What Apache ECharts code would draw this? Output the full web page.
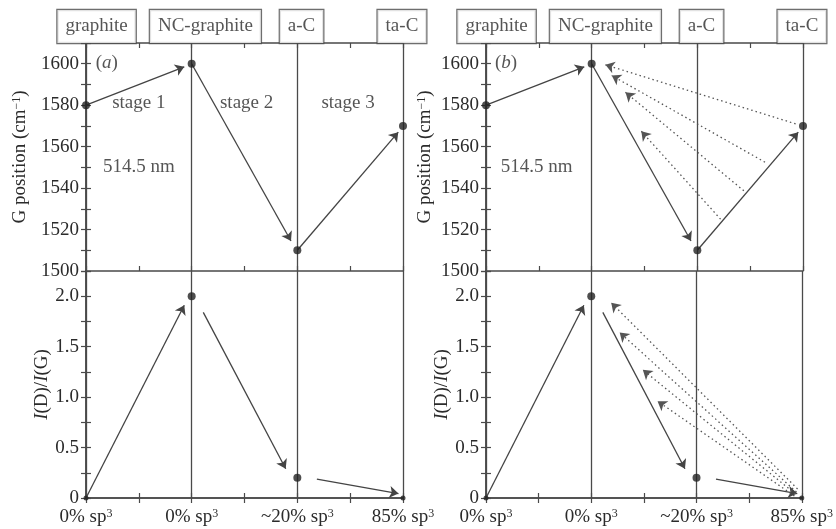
<!DOCTYPE html>
<html>
<head>
<meta charset="utf-8">
<script src="https://cdn.jsdelivr.net/npm/echarts@6/dist/echarts.min.js"></script>
<style>html,body{margin:0;background:#fff}#chart{width:836px;height:529px}</style>
</head>
<body>
<div id="chart"></div>
<script>
// stage points
const phases = ['graphite', 'NC-graphite', 'a-C', 'ta-C'];
const sp3Labels = ['0%', '0%', '~20%', '85%'];
const gTicks = [1500, 1520, 1540, 1560, 1580, 1600];
const ratioTicks = [0, 0.5, 1.0, 1.5, 2.0];
const stages = ['stage 1', 'stage 2', 'stage 3'];
const laser = '514.5 nm';
const panels = ['a', 'b'];

const gPos = [1580, 1600, 1510, 1570];
const ratio = [0, 2.0, 0.2, 0];

// arrows [x0, y0, x1, y1], x in stage units
const gArrows = [[0, 1580, 0.93, 1598.5], [1, 1600, 1.94, 1514.5], [2, 1510, 2.955, 1567]];
const ratioArrows = [[0, 0, 0.93, 1.91], [1.11, 1.84, 1.89, 0.29], [2.185, 0.186, 2.957, 0.044]];
// dotted return paths, panel (b) only
const gBack = [[2.93, 1571, 1.13, 1599.5], [2.64, 1552.5, 1.19, 1594.3], [2.44, 1538.7, 1.32, 1586.2], [2.22, 1525, 1.47, 1567.4]];
const ratioBack = [[2.96, 0.09, 1.19, 1.935], [2.95, 0.06, 1.27, 1.64], [2.94, 0.04, 1.49, 1.27], [2.93, 0.02, 1.63, 0.96]];

const FONT = 'Liberation Serif';
const INK = '#2b2b2b';
const LINE = '#4a4a4a';
const cols = [86, 486];
const W = 317, TOP = 43, H1 = 228, H2 = 227;
const boxShift = [0.1, 0.13, 0.04, -0.01];

const chart = echarts.init(document.getElementById('chart'));

let grid = [], xAxis = [], yAxis = [], series = [];

function seg(a, dotted) {
	return [{
		coord: [a[0], a[1]],
		lineStyle: dotted ? {type: [1.5, 3], color: '#555', width: 1.3} : {type: 'solid', color: '#444', width: 1.3}
	}, {coord: [a[2], a[3]]}];
}

for (let p = 0; p < 2; p++) {
	for (let k = 0; k < 2; k++) {
		let gi = p * 2 + k;
		grid.push({left: cols[p], top: k ? TOP + H1 : TOP, width: W, height: k ? H2 : H1});

		let tick = {inside: true, length: 5, lineStyle: {color: LINE, width: 1.2}};
		let minor = {show: true, splitNumber: 2, length: 5, lineStyle: {color: LINE, width: 1.2}};
		xAxis.push({
			gridIndex: gi, type: 'value', min: 0, max: 3, interval: 1, position: 'bottom',
			axisLine: {lineStyle: {color: LINE, width: 1.5}},
			axisTick: tick, minorTick: minor,
			splitLine: {show: true, lineStyle: {color: LINE, width: 1.3}},
			axisLabel: k ? {
				margin: 10,
				formatter: v => '{n|' + sp3Labels[v] + ' sp}{s|3}',
				rich: {
					n: {fontFamily: FONT, fontSize: 19, color: INK},
					s: {fontFamily: FONT, fontSize: 12, color: INK, verticalAlign: 'top'}
				}
			} : {show: false}
		});
		xAxis.push({
			gridIndex: gi, type: 'value', min: 0, max: 3, interval: 1, position: 'top',
			axisLine: {lineStyle: {color: LINE, width: 1.5}},
			axisTick: tick, minorTick: minor,
			splitLine: {show: false}, axisLabel: {show: false}
		});

		let yBase = k ? {min: 0, max: 2.25, interval: 0.25} : {min: 1500, max: 1610, interval: 10};
		let nameGap = k ? (p ? 32.5 : 33.5) : (p ? 51.5 : 56.5);
		yAxis.push(Object.assign({
			gridIndex: gi, type: 'value', position: 'left',
			axisLine: {show: true, lineStyle: {color: LINE, width: 1.5}},
			axisTick: {show: true, inside: true, length: 5, lineStyle: {color: LINE, width: 1.2}},
			splitLine: {show: false},
			axisLabel: {
				margin: 7, fontFamily: FONT, fontSize: 19, color: INK,
				formatter: k
					? v => ratioTicks.includes(v) ? (v === 0 ? '0' : v.toFixed(1)) : ''
					: v => gTicks.includes(v) ? String(v) : ''
			},
			name: k ? '{i|I}(D)/{i|I}(G)' : 'G position (cm{s|−1})',
			nameLocation: 'middle', nameRotate: 90, nameGap: nameGap,
			nameTextStyle: {
				fontFamily: FONT, fontSize: 19, color: INK,
				rich: {
					i: {fontFamily: FONT, fontSize: 19, color: INK, fontStyle: 'italic'},
					s: {fontFamily: FONT, fontSize: 12, color: INK, verticalAlign: 'top'}
				}
			}
		}, yBase));
		yAxis.push(Object.assign({
			gridIndex: gi, type: 'value', position: 'right',
			axisLine: {show: true, lineStyle: {color: LINE, width: 1.5}},
			axisTick: {show: true, inside: true, length: 5, lineStyle: {color: LINE, width: 1.2}},
			splitLine: {show: false}, axisLabel: {show: false}
		}, yBase));

		let vals = k ? ratio : gPos;
		let arrows = (k ? ratioArrows : gArrows).map(a => seg(a, false));
		if (p === 1) {
			arrows = arrows.concat((k ? ratioBack : gBack).map(a => seg(a, true)));
		}
		series.push({
			type: 'scatter', xAxisIndex: gi * 2, yAxisIndex: gi * 2,
			data: vals.map((v, i) => [i, v]),
			symbolSize: val => (k && (val[0] === 0 || val[0] === 3)) ? 5 : 8,
			itemStyle: {color: '#222'},
			z: 5, clip: false, silent: true,
			markLine: {
				silent: true, animation: false,
				symbol: ['none', 'arrow'], symbolSize: 9,
				label: {show: false},
				emphasis: {disabled: true},
				data: arrows
			}
		});

		if (!k) {
			// phase boxes above the frame
			series.push({
				type: 'scatter', xAxisIndex: gi * 2, yAxisIndex: gi * 2,
				data: phases.map((t, i) => [i + boxShift[i], 1610, t]),
				symbolSize: 0, clip: false, silent: true, z: 10,
				label: {
					show: true, position: 'top', distance: 0,
					formatter: q => q.data[2],
					fontFamily: FONT, fontSize: 19, color: INK,
					backgroundColor: '#fff', borderColor: LINE, borderWidth: 1.2,
					padding: [7, 8, 7, 8]
				}
			});
			// notes inside the upper plots
			let notes = [[p ? 0.19 : 0.196, 1600.5, '({i|' + panels[p] + '})'], [p ? 0.48 : 0.5, 1550, laser]];
			if (!p) {
				notes.push([0.5, 1581, stages[0]], [1.52, 1581, stages[1]], [2.48, 1581, stages[2]]);
			}
			series.push({
				type: 'scatter', xAxisIndex: gi * 2, yAxisIndex: gi * 2,
				data: notes, symbolSize: 0, clip: false, silent: true,
				label: {
					show: true, position: 'inside',
					formatter: q => q.data[2],
					fontFamily: FONT, fontSize: 19, color: INK,
					rich: {i: {fontFamily: FONT, fontSize: 19, color: INK, fontStyle: 'italic'}}
				}
			});
		}
	}
}

chart.setOption({
	animation: false,
	backgroundColor: '#fff',
	grid: grid,
	xAxis: xAxis,
	yAxis: yAxis,
	series: series
});
</script>
</body>
</html>
